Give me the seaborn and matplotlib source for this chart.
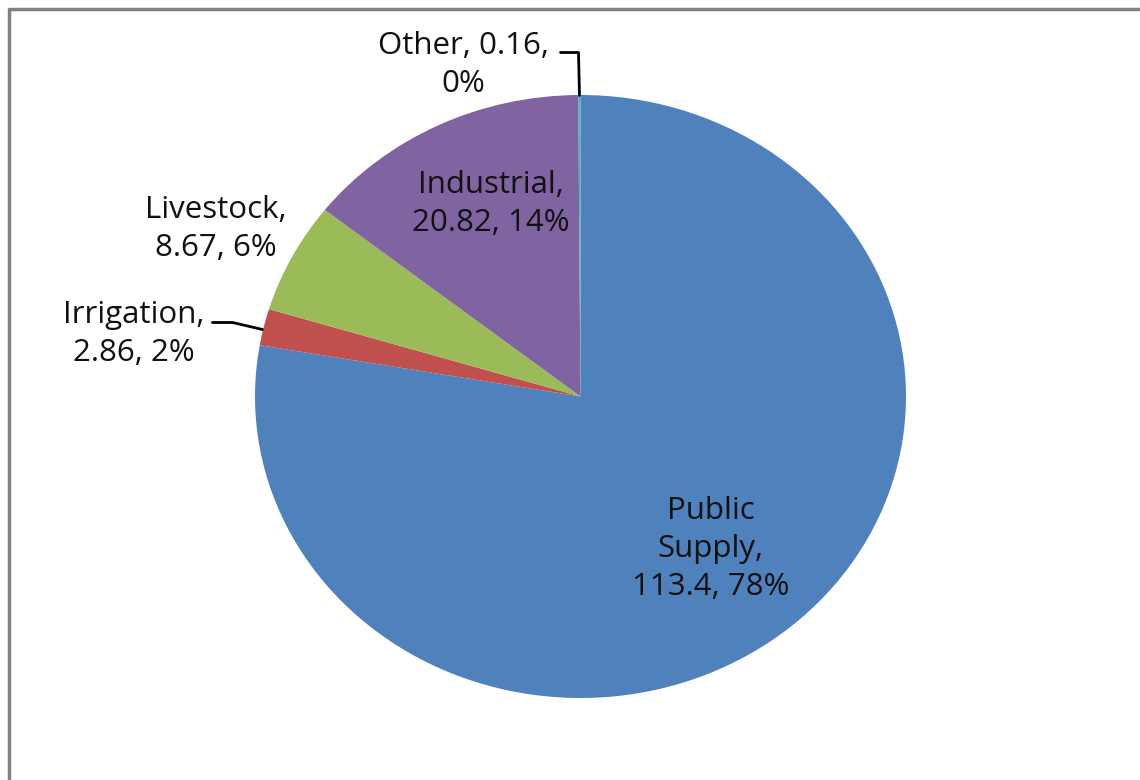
import matplotlib
matplotlib.use("Agg")
import matplotlib.pyplot as plt
import seaborn as sns

categories = ["Public Supply", "Irrigation", "Livestock", "Industrial", "Other"]
values = [113.4, 2.86, 8.67, 20.82, 0.16]
percents = ["78%", "2%", "6%", "14%", "0%"]
colors = ["#4F81BD", "#C0504D", "#9BBB59", "#8064A2", "#4BACC6"]

sns.set_theme(style="white")
plt.rcParams["font.family"] = ["Open Sans", "DejaVu Sans"]
palette = sns.color_palette(colors)

fig = plt.figure(figsize=(11.4, 7.8), dpi=100)
fig.patch.set_facecolor("white")

# grey frame open at bottom/right like the cropped screenshot
frame = fig.add_axes([0, 0, 1, 1])
frame.set_xlim(0, 1140)
frame.set_ylim(780, 0)
frame.axis("off")
frame.plot([9, 9, 1140], [780, 9, 9], color="#808080", lw=2.5, solid_capstyle="butt")

ax = fig.add_axes([255 / 1140, (780 - 698) / 780, 651 / 1140, 603 / 780])
ax.pie(values, colors=palette, startangle=90, counterclock=False, radius=1,
       wedgeprops=dict(linewidth=0))
ax.set_aspect("auto")
ax.set_xlim(-1, 1)
ax.set_ylim(-1, 1)
ax.axis("off")

# label positions (data coords)
label_pos = {
    "Public Supply": (0.40, -0.507),
    "Irrigation": (-1.373, 0.206),
    "Livestock": (-1.121, 0.554),
    "Industrial": (-0.276, 0.637),
    "Other": (-0.359, 1.098),
}
label_text = {
    "Public Supply": "Public\nSupply,\n113.4, 78%",
    "Irrigation": "Irrigation,\n2.86, 2%",
    "Livestock": "Livestock,\n8.67, 6%",
    "Industrial": "Industrial,\n20.82, 14%",
    "Other": "Other, 0.16,\n0%",
}
for c in categories:
    x, y = label_pos[c]
    ax.text(x, y, label_text[c], ha="center", va="center", fontsize=22.5,
            color="#111111", linespacing=1.35, clip_on=False)

# leader lines
def px(x, y):
    return (x - 580) / 325.5, (397 - y) / 301.5

pts = [px(212, 323), px(232, 323), px(262, 330)]
ax.plot([p[0] for p in pts], [p[1] for p in pts], color="black", lw=2, clip_on=False)
pts = [px(560, 53), px(578, 53), px(579, 96)]
ax.plot([p[0] for p in pts], [p[1] for p in pts], color="black", lw=2, clip_on=False)

fig.savefig("out.png", dpi=100, facecolor="white")
